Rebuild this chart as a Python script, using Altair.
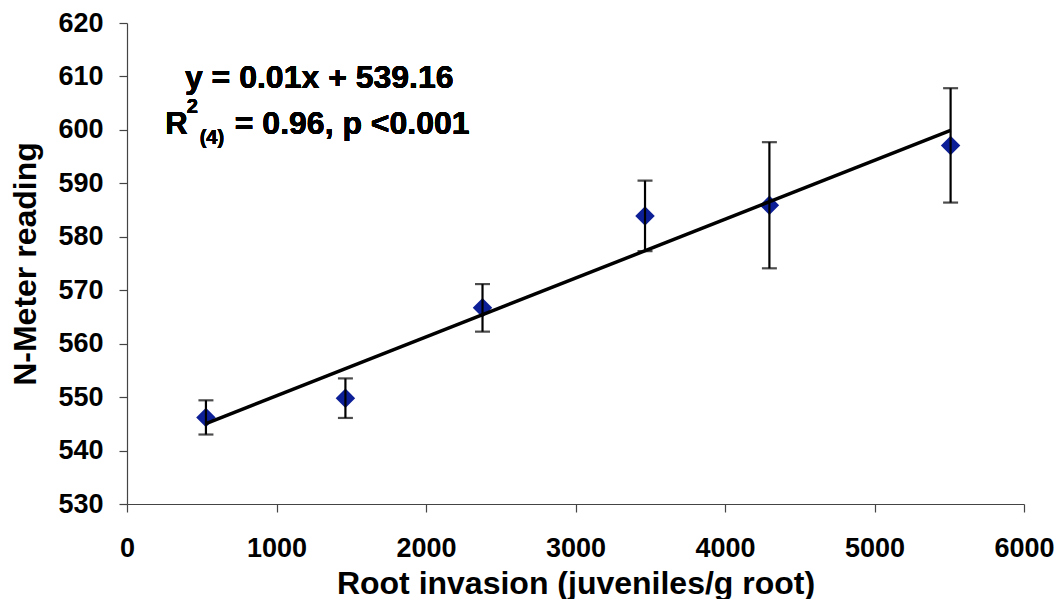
import altair as alt
import pandas as pd

# ---- data ----
root_invasion = [528, 1461, 2378, 3465, 4297, 5509]
n_meter = [546.2, 549.8, 566.7, 583.9, 585.9, 597.1]
n_meter_err = [3.2, 3.7, 4.45, 6.6, 11.8, 10.7]
x_ticks = [0, 1000, 2000, 3000, 4000, 5000, 6000]
y_ticks = [530, 540, 550, 560, 570, 580, 590, 600, 610, 620]

df = pd.DataFrame({"x": root_invasion, "y": n_meter, "err": n_meter_err})
df["lo"] = df["y"] - df["err"]
df["hi"] = df["y"] + df["err"]

FONT = "Liberation Sans"
AXIS_COLOR = "#444444"

xscale = alt.Scale(domain=[0, 6000], nice=False, zero=False)
yscale = alt.Scale(domain=[530, 620], nice=False, zero=False)

xaxis = alt.Axis(
    title="Root invasion (juveniles/g root)",
    values=x_ticks, format="d", grid=False,
    labelFlush=False, labelOverlap=False, labelPadding=23,
    titleY=89, titleBaseline="alphabetic",
)
yaxis = alt.Axis(
    title="N-Meter reading",
    values=y_ticks, format="d", grid=False,
    labelOverlap=False, labelPadding=16,
    titleX=-92, titleBaseline="alphabetic",
)

base = alt.Chart(df)

points = base.mark_point(
    shape="diamond", filled=True, size=380, color="#0d1f96", opacity=1
).encode(
    x=alt.X("x:Q", scale=xscale, axis=xaxis),
    y=alt.Y("y:Q", scale=yscale, axis=yaxis),
)

bars = base.mark_rule(color="black", strokeWidth=2.2).encode(
    x="x:Q", y="lo:Q", y2="hi:Q"
)
cap_hi = base.mark_tick(color="black", thickness=2.2, size=15, orient="horizontal").encode(
    x="x:Q", y="hi:Q"
)
cap_lo = base.mark_tick(color="black", thickness=2.2, size=15, orient="horizontal").encode(
    x="x:Q", y="lo:Q"
)

fit = base.transform_regression("x", "y").mark_line(
    color="black", strokeWidth=3.5
).encode(x="x:Q", y="y:Q")

txt_style = dict(font=FONT, fontWeight="bold", color="black", baseline="alphabetic")

eq = alt.Chart(df).mark_text(
    text="y = 0.01x + 539.16", align="center", fontSize=32, **txt_style
).encode(x=alt.datum(1286), y=alt.datum(607.78))

r_main = alt.Chart(df).mark_text(
    text="R", align="left", fontSize=31, **txt_style
).encode(x=alt.datum(256), y=alt.datum(599.16))

r_sup = alt.Chart(df).mark_text(
    text="2", align="left", fontSize=20, **txt_style
).encode(x=alt.datum(400), y=alt.datum(603.23))

r_sub = alt.Chart(df).mark_text(
    text="(4)", align="left", fontSize=20, **txt_style
).encode(x=alt.datum(486), y=alt.datum(597.29))

r_rest = alt.Chart(df).mark_text(
    text="= 0.96, p <0.001", align="left", fontSize=32, **txt_style
).encode(x=alt.datum(721), y=alt.datum(599.16))

chart = alt.layer(
    points, bars, cap_hi, cap_lo, fit, eq, r_main, r_sup, r_sub, r_rest
).properties(
    width=897, height=481,
    autosize=alt.AutoSizeParams(type="none"),
    padding={"left": 119, "top": 15, "right": 30, "bottom": 95},
    background="white",
).configure_view(
    strokeWidth=0
).configure_axis(
    labelFont=FONT, labelFontWeight="bold", labelFontSize=27, labelColor="black",
    titleFont=FONT, titleFontWeight="bold", titleFontSize=32, titleColor="black",
    domainColor=AXIS_COLOR, domainWidth=1.2,
    tickColor=AXIS_COLOR, tickWidth=1.2, tickSize=8,
)

chart.save("out.html", embed_options={"renderer": "svg", "actions": False})
